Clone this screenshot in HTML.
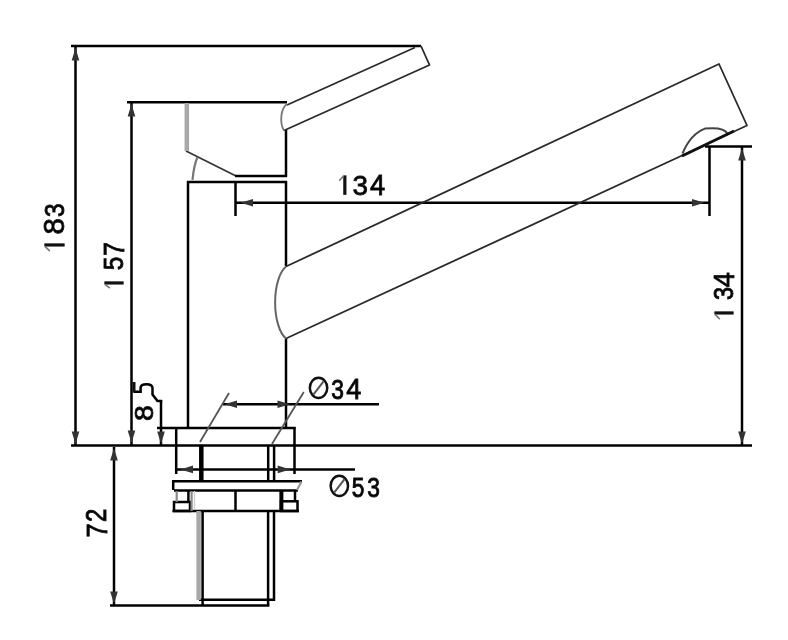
<!DOCTYPE html>
<html><head><meta charset="utf-8">
<style>
html,body{margin:0;padding:0;background:#fff;width:788px;height:640px;overflow:hidden}
svg{display:block;will-change:transform}
text{font-family:"Liberation Sans",sans-serif;fill:#000}
</style></head><body>
<svg width="788" height="640" viewBox="0 0 788 640">
<defs>
<path id="au" d="M0,1 L-3.8,13.5 L3.8,13.5 Z" fill="#333"/>
</defs>
<g stroke="#000" stroke-width="2.5" fill="none" stroke-linecap="butt">
<!-- 183 dimension -->
<line x1="71" y1="46" x2="421" y2="46"/>
<line x1="75.5" y1="47" x2="75.5" y2="445"/>
<!-- 157 dimension -->
<line x1="127" y1="102.3" x2="287" y2="102.3"/>
<line x1="131.5" y1="103" x2="131.5" y2="445"/>
<!-- base line -->
<line x1="71" y1="445.5" x2="752" y2="445.5"/>
<!-- head of body -->
<line x1="186" y1="151" x2="236" y2="176" stroke-width="1.7" stroke="#333"/>
<line x1="235" y1="176" x2="287" y2="176"/>
<line x1="286" y1="130" x2="286" y2="177"/>
<!-- body -->
<line x1="187" y1="182" x2="287" y2="182"/>
<line x1="188" y1="181" x2="188" y2="428"/>
<line x1="286" y1="181" x2="286" y2="266"/>
<line x1="286" y1="338.5" x2="286" y2="428"/>
<!-- 134 horizontal dim -->
<line x1="235.5" y1="182" x2="235.5" y2="216"/>
<line x1="709.5" y1="146" x2="709.5" y2="216"/>
<line x1="236" y1="202.7" x2="709" y2="202.7"/>
<!-- 134 vertical dim -->
<line x1="705" y1="146.5" x2="752" y2="146.5"/>
<line x1="742" y1="147" x2="742" y2="445"/>
<!-- flange -->
<line x1="157" y1="428" x2="295.5" y2="428"/>
<line x1="176.2" y1="427" x2="176.2" y2="474"/>
<line x1="294.5" y1="427" x2="294.5" y2="474"/>
<!-- 8.5 -->
<line x1="161" y1="400" x2="161" y2="445"/>
<path d="M133.5,391.8 L140.6,391.8 L140.6,387.5 Q141,384.2 146.5,384.2 Q152.3,384.2 152.5,388 L152.5,394.5 L157.5,401 L162.2,401"/>
<rect x="132.5" y="382" width="3" height="10.5" fill="#111" stroke="none"/>
<!-- O34 -->
<line x1="223" y1="404.3" x2="379" y2="404.3"/>
<!-- O53 -->
<line x1="177" y1="469.4" x2="355" y2="469.4"/>
<!-- stem -->
<line x1="201.3" y1="445" x2="201.3" y2="482" stroke-width="4.5"/>
<line x1="268.2" y1="445" x2="268.2" y2="482"/>
<line x1="274.1" y1="445" x2="274.1" y2="482"/>
<!-- plate -->
<line x1="172" y1="481.2" x2="302" y2="481.2"/>
<line x1="174" y1="490.4" x2="298" y2="490.4"/>
<line x1="173.2" y1="480.5" x2="173.2" y2="490"/>
<!-- nut -->
<line x1="172.5" y1="511" x2="299" y2="511"/>
<rect x="174" y="502" width="16" height="9" />
<rect x="281" y="501.3" width="16.5" height="9.7"/>
<line x1="188.4" y1="490" x2="188.4" y2="502"/>
<line x1="235.5" y1="490" x2="235.5" y2="511"/>
<line x1="281.4" y1="490" x2="281.4" y2="511" stroke-width="4"/>
<line x1="295" y1="490" x2="295" y2="502"/>
<!-- pipe -->
<line x1="202.6" y1="511" x2="202.6" y2="606"/>
<line x1="268.1" y1="511" x2="268.1" y2="606"/>
<line x1="274" y1="511" x2="274" y2="601"/>
<line x1="199" y1="599.8" x2="275" y2="599.8"/>
<line x1="110" y1="605.5" x2="269.3" y2="605.5"/>
<!-- 72 -->
<line x1="114" y1="447" x2="114" y2="605"/>
</g>
<!-- gray strokes -->
<g stroke="#a8a8a8" fill="none">
<line x1="186.8" y1="103" x2="186.8" y2="151" stroke-width="4.5"/>
<path d="M197.3,157.5 Q194,165 192.5,180" stroke-width="2.2" stroke="#777"/>
<line x1="176.7" y1="491" x2="176.7" y2="502" stroke-width="2.2" stroke="#8a8a8a"/>
<line x1="191.6" y1="491" x2="191.6" y2="511" stroke-width="2.2" stroke="#8a8a8a"/>
<line x1="194.5" y1="491" x2="194.5" y2="510" stroke-width="1.5" stroke="#d0d0d0"/>
<line x1="198.6" y1="511" x2="198.6" y2="600" stroke-width="4.5"/>
<path d="M301.5,481.5 L297,490" stroke-width="2.2" stroke="#999"/>
</g>
<!-- handle / spout outlines -->
<g stroke="#2a2a2a" stroke-width="1.8" fill="none" stroke-linejoin="round">
<path d="M287,105 L415,47.5"/>
<path d="M421,46 L429.5,65 L284,130.5"/>
<path d="M287,104 A9 16 0 0 0 284,130.5" stroke="#777"/>
<path d="M286,266.5 L719,64 L747,125.5 L286,338.5"/>
<path d="M286,266.5 A16 38 0 0 0 286,338.5" stroke="#666" stroke-width="2"/>
<path d="M682.5,153.5 C686,145 693,133 705,128.6 C714,127.6 724,127.6 727.5,133.5" stroke="#444" stroke-width="2"/>
<path d="M682,156 L734,131" stroke-width="3" stroke="#111"/>
<path d="M200,442 L229,393" stroke="#555"/>
<path d="M272,444 L303.8,392" stroke="#555"/>
</g>
<!-- arrowheads -->
<g fill="#111">
<use href="#au" transform="translate(75.5,47)"/>
<use href="#au" transform="translate(75.5,445) rotate(180)"/>
<use href="#au" transform="translate(131.5,103)"/>
<use href="#au" transform="translate(131.5,444) rotate(180)"/>
<use href="#au" transform="translate(742,147)"/>
<use href="#au" transform="translate(742,445) rotate(180)"/>
<use href="#au" transform="translate(114,447)"/>
<use href="#au" transform="translate(114,605) rotate(180)"/>
<use href="#au" transform="translate(161,445) rotate(180)"/>
<use href="#au" transform="translate(239.5,202.7) rotate(-90)"/>
<use href="#au" transform="translate(705.5,202.7) rotate(90)"/>
<use href="#au" transform="translate(223.5,404.3) rotate(-90)"/>
<use href="#au" transform="translate(291,404.3) rotate(90)"/>
<use href="#au" transform="translate(179.5,469.4) rotate(-90)"/>
<use href="#au" transform="translate(291.2,469.4) rotate(90)"/>
</g>
<!-- TEXT START -->
<text transform="translate(64.27,216.93) rotate(-90) scale(0.2447,0.2817)" font-size="100" stroke="#111" stroke-width="3.27">3</text>
<text transform="translate(64.36,234.42) rotate(-90) scale(0.2936,0.2859)" font-size="100" stroke="#111" stroke-width="2.80">8</text>
<g transform="translate(44.35,251.65) rotate(-90)"><rect x="5.10" y="0" width="3.2" height="20.30" fill="#111"/><path d="M5.30,0.6 L0.6,5.50" stroke="#777" stroke-width="1.6" fill="none"/></g>
<text transform="translate(124.24,256.10) rotate(-90) scale(0.2500,0.2868)" font-size="100" stroke="#111" stroke-width="3.20">7</text>
<text transform="translate(123.37,270.33) rotate(-90) scale(0.2447,0.2757)" font-size="100" stroke="#111" stroke-width="3.27">5</text>
<g transform="translate(104.35,288.65) rotate(-90)"><rect x="4.10" y="0" width="3.2" height="19.30" fill="#111"/><path d="M4.30,0.6 L0.6,5.50" stroke="#777" stroke-width="1.6" fill="none"/></g>
<text transform="translate(106.35,521.93) rotate(-90) scale(0.2370,0.2857)" font-size="100" stroke="#111" stroke-width="3.38">2</text>
<text transform="translate(106.64,537.51) rotate(-90) scale(0.2522,0.2941)" font-size="100" stroke="#111" stroke-width="3.17">7</text>
<text transform="translate(152.69,420.99) rotate(-90) scale(0.2851,0.2620)" font-size="100" stroke="#111" stroke-width="3.05">8</text>
<text transform="translate(734.24,287.29) rotate(-90) scale(0.2706,0.2868)" font-size="100" stroke="#111" stroke-width="2.96">4</text>
<text transform="translate(733.38,299.89) rotate(-90) scale(0.2340,0.2718)" font-size="100" stroke="#111" stroke-width="3.42">3</text>
<g transform="translate(714.35,319.65) rotate(-90)"><rect x="5.10" y="0" width="3.2" height="19.30" fill="#111"/><path d="M5.30,0.6 L0.6,5.50" stroke="#777" stroke-width="1.6" fill="none"/></g>
<g transform="translate(338.65,175.35)"><rect x="4.60" y="0" width="3.2" height="19.50" fill="#111"/><path d="M4.80,0.6 L0.6,5.50" stroke="#777" stroke-width="1.6" fill="none"/></g>
<text transform="translate(352.44,194.58) scale(0.2787,0.2746)" font-size="100" stroke="#111" stroke-width="2.91">3</text>
<text transform="translate(370.00,195.14) scale(0.2725,0.2868)" font-size="100" stroke="#111" stroke-width="2.94">4</text>
<ellipse cx="318.55" cy="387.90" rx="8.70" ry="10.05" stroke="#111" stroke-width="2.5" fill="none"/>
<path d="M313.55,394.40 L323.55,381.40" stroke="#555" stroke-width="2" fill="none"/>
<text transform="translate(331.34,398.87) scale(0.2277,0.2775)" font-size="100" stroke="#111" stroke-width="3.51">3</text>
<text transform="translate(346.31,399.44) scale(0.2706,0.2897)" font-size="100" stroke="#111" stroke-width="2.96">4</text>
<ellipse cx="339.35" cy="485.90" rx="8.70" ry="10.05" stroke="#111" stroke-width="2.5" fill="none"/>
<path d="M334.35,492.40 L344.35,479.40" stroke="#555" stroke-width="2" fill="none"/>
<text transform="translate(351.74,496.87) scale(0.2277,0.2814)" font-size="100" stroke="#111" stroke-width="3.51">5</text>
<text transform="translate(367.14,496.87) scale(0.2277,0.2775)" font-size="100" stroke="#111" stroke-width="3.51">3</text>
<!-- TEXT END -->
</svg>
</body></html>
